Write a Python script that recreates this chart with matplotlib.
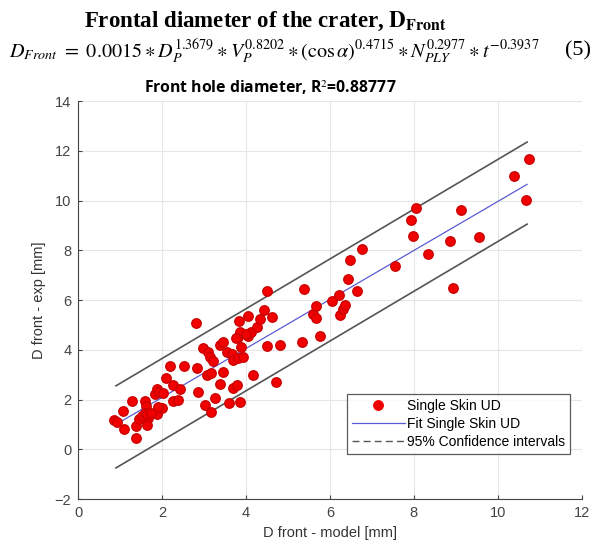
import matplotlib
matplotlib.use("Agg")
import matplotlib.pyplot as plt
from matplotlib.lines import Line2D

plt.rcParams['mathtext.fontset'] = 'stix'

# measured points: D front model vs experimental [mm]
d_model = [0.85, 0.93, 1.06, 1.09, 1.29, 1.38, 1.38, 1.45, 1.53, 1.59, 1.62, 1.67, 1.63, 1.60,
           1.87, 1.83, 1.87, 1.93, 1.99, 2.03, 1.91, 2.09, 2.19, 2.25, 2.27, 2.38, 2.42, 2.52,
           1.65, 1.73,
           2.81, 2.82, 2.86, 2.98, 3.02, 3.06, 3.10, 3.14, 3.16, 3.16, 3.22, 3.26, 3.38, 3.39,
           3.46, 3.46, 3.54, 3.60, 3.66, 3.68, 3.70, 3.79, 3.81, 3.81, 3.83, 3.85, 3.85, 3.89,
           3.92, 4.05, 4.05, 4.13, 4.16, 4.25, 4.33, 4.43, 4.49, 4.49, 4.61, 4.71, 4.81, 3.75,
           4.00,
           5.33, 5.38, 5.60, 5.67, 5.67, 5.76, 6.04, 6.22, 6.25, 6.30, 6.36, 6.44, 6.48, 6.65,
           6.77, 7.55, 7.93, 7.97, 8.05, 8.34, 8.86, 8.94, 9.12, 9.56, 10.39, 10.67, 10.75]
d_exp = [1.17, 1.08, 1.55, 0.82, 1.95, 0.94, 0.47, 1.22, 1.33, 1.92, 1.75, 1.25, 0.98, 1.45,
         1.42, 2.24, 2.44, 2.30, 1.65, 2.25, 1.71, 2.86, 3.33, 2.59, 1.95, 1.97, 2.42, 3.33,
         1.40, 1.47,
         5.07, 3.25, 2.32, 4.06, 1.77, 3.00, 3.89, 3.70, 3.08, 1.49, 3.53, 2.08, 4.20, 2.64,
         4.33, 3.12, 3.89, 1.86, 3.84, 2.46, 3.59, 2.60, 3.66, 4.53, 5.17, 4.73, 1.88, 4.12,
         3.72, 5.36, 4.57, 4.73, 2.99, 4.93, 5.23, 5.60, 6.38, 4.16, 5.31, 2.72, 4.20, 4.46,
         4.62,
         4.33, 6.43, 5.45, 5.27, 5.74, 4.56, 5.98, 6.20, 5.40, 5.63, 5.80, 6.84, 7.61, 6.38,
         8.05, 7.38, 9.22, 8.57, 9.69, 7.85, 8.39, 6.47, 9.62, 8.55, 10.98, 10.02, 11.65]

# fit line and 95% confidence bounds (end points)
fit_x = [0.9, 10.7]
fit_y = [1.0, 10.65]
ci_upper = [2.55, 12.35]
ci_lower = [-0.75, 9.05]

fig = plt.figure(figsize=(6.11, 5.52), dpi=100)
ax = fig.add_axes([0.128, 0.096, 0.824, 0.721])

ax.plot(d_model, d_exp, 'o', color='#f00000', markeredgecolor='#cc0000',
        markersize=6.8, zorder=3)
ax.plot(fit_x, fit_y, color='#5b5bd6', lw=0.9, zorder=2)
ax.plot(fit_x, ci_upper, color='#555555', lw=1.2, zorder=2)
ax.plot(fit_x, ci_lower, color='#555555', lw=1.2, zorder=2)

ax.set_xlim(0, 12)
ax.set_ylim(-2, 14)
ax.set_xticks(range(0, 13, 2))
ax.set_yticks(range(-2, 15, 2))
ax.grid(True, color='#e6e6e6', lw=0.8)
ax.set_axisbelow(True)
for s in ['top', 'right']:
    ax.spines[s].set_visible(False)
for s in ['left', 'bottom']:
    ax.spines[s].set_color('#444444')
ax.tick_params(direction='in', length=3, colors='#444444', labelsize=10.5,
               labelcolor='#444444', pad=5)
for lab in ax.get_xticklabels() + ax.get_yticklabels():
    lab.set_family('Liberation Sans')

ax.set_xlabel("D front - model [mm]", fontsize=10.5, color='#333333',
              family='Liberation Sans', labelpad=4)
ax.set_ylabel("D front - exp [mm]", fontsize=10.5, color='#333333',
              family='Liberation Sans', labelpad=6)

handles = [
    Line2D([], [], marker='o', ls='none', color='#f00000', markersize=6.8),
    Line2D([], [], color='#5b5bd6', lw=0.9),
    Line2D([], [], color='#555555', lw=1.0, ls=(0, (5, 3))),
]
labels = ["Single Skin UD", "Fit Single Skin UD", "95% Confidence intervals"]
leg = ax.legend(handles, labels, loc='lower right', bbox_to_anchor=(0.99, 0.096),
                frameon=True, fancybox=False, borderpad=0.35,
                labelspacing=0.3, handlelength=3.8, handletextpad=0.15,
                prop={'family': 'Liberation Sans', 'size': 10})
leg.get_frame().set_edgecolor('#333333')
leg.get_frame().set_linewidth(0.9)

# header texts
fig.text(0.434, 0.962, r"Frontal diameter of the crater, $\mathbf{D}_{\mathbf{Front}}$",
         ha='center', va='center', fontsize=16.5, weight='bold', family='Liberation Serif')
fig.text(0.015, 0.907,
         r"$D_{Front}\ =\ 0.0015\ast D_P^{1.3679}\ast V_P^{0.8202}\ast(\cos\alpha)^{0.4715}"
         r"\ast N_{PLY}^{0.2977}\ast t^{-0.3937}$",
         ha='left', va='center', fontsize=14.5)
fig.text(0.925, 0.907, "(5)", ha='left', va='center', fontsize=16,
         family='Liberation Serif')
fig.text(0.443, 0.842, r"Front hole diameter, R$^2$=0.88777", ha='center', va='center',
         fontsize=11.3, weight='bold', family='Open Sans')

fig.savefig("out.png", dpi=100)
